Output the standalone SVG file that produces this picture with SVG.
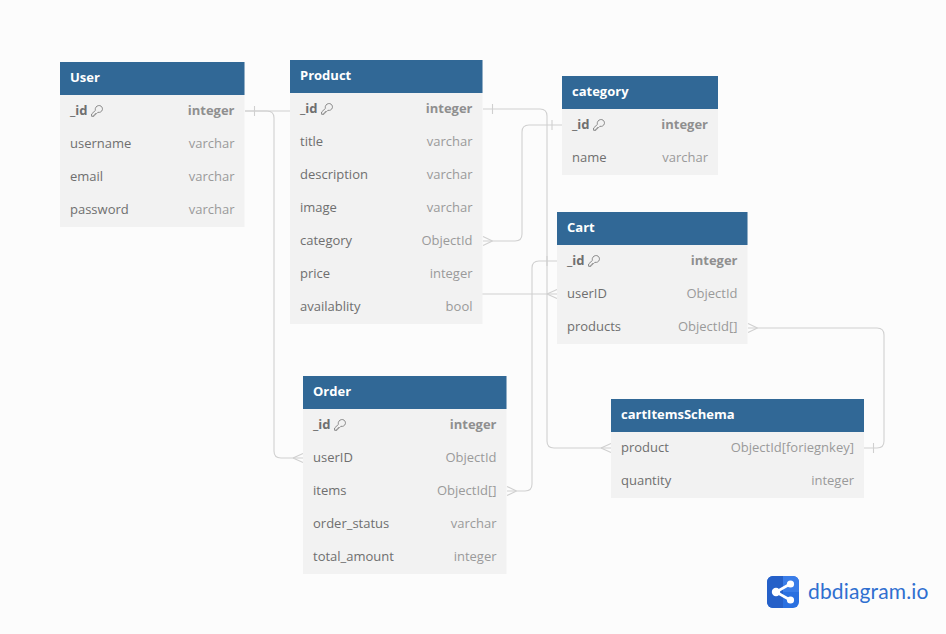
<svg xmlns="http://www.w3.org/2000/svg" width="946" height="634" viewBox="0 0 946 634">
<style>
text{font-family:"Open Sans","Noto Sans",sans-serif;font-size:13px;fill:#6f6f6f}
.b{fill:#f2f2f2}
.h{fill:#316896}
.t{font-weight:700;fill:#fff}
.pk{font-weight:700}
.ty{fill:#9a9a9a;text-anchor:end}
.pkt{font-weight:700;fill:#8f8f8f;text-anchor:end}
.c{fill:none;stroke:#d0d0d0;stroke-width:1.1}
.k{fill:none;stroke:#7d7d7d;stroke-width:.9}
</style>
<defs>
<g id="key"><path class="k" d="M4.300 3.600C4.800 1.400 6.800 .3 8.800 .6C10.600 1 11.700 2.700 11.400 4.600C11 6.600 8.900 7.800 6.900 7.300L5.500 8.700H4.200V10H2.900V11.300H.6V9L4.600 5.200C4.300 4.700 4.200 4.200 4.300 3.600Z"/></g>
</defs>
<rect width="946" height="634" fill="#fcfcfc"/>
<g id="connectors">
<path class="c" d="M245 111H394Q401 111 401 118V287Q401 294 408 294H557"/>
<path class="c" d="M547 294L557 289.500M547 294L557 298.500"/>
<path class="c" d="M245 111H267Q274 111 274 118V451Q274 458 281 458H303"/>
<path class="c" d="M293 458L303 453.500M293 458L303 462.500"/>
<path class="c" d="M254.500 106V116"/>
<path class="c" d="M483 109H540Q547 109 547 116V441Q547 448 554 448H611"/>
<path class="c" d="M492.500 104V114"/>
<path class="c" d="M601 448L611 443.500M601 448L611 452.500"/>
<path class="c" d="M562 125H529Q522 125 522 132V234Q522 241 515 241H483"/>
<path class="c" d="M552 120V130"/>
<path class="c" d="M492.500 241L483 236.500M492.500 241L483 245.500"/>
<path class="c" d="M557 261H539Q532 261 532 268V484Q532 491 525 491H507"/>
<path class="c" d="M547 256V266"/>
<path class="c" d="M516.500 491L507 486.500M516.500 491L507 495.500"/>
<path class="c" d="M864 448H877Q884 448 884 441V335Q884 328 877 328H748"/>
<path class="c" d="M873.500 443V453"/>
<path class="c" d="M757.500 328L748 323.500M757.500 328L748 332.500"/>
</g>
<g id="user">
<rect class="b" x="60" y="62" width="184.500" height="165"/><rect class="h" x="60" y="62" width="184.500" height="33"/>
<text class="t" x="70" y="82">User</text>
<text class="pk" x="70" y="115">_id</text><use href="#key" x="91" y="105"/><text class="pkt" x="234.500" y="115">integer</text>
<text x="70" y="148">username</text><text class="ty" x="234.500" y="148">varchar</text>
<text x="70" y="181">email</text><text class="ty" x="234.500" y="181">varchar</text>
<text x="70" y="214">password</text><text class="ty" x="234.500" y="214">varchar</text>
</g>
<g id="product">
<rect class="b" x="290" y="60" width="192.500" height="264"/><rect class="h" x="290" y="60" width="192.500" height="33"/>
<text class="t" x="300" y="80">Product</text>
<text class="pk" x="300" y="113">_id</text><use href="#key" x="321" y="103"/><text class="pkt" x="472.500" y="113">integer</text>
<text x="300" y="146">title</text><text class="ty" x="472.500" y="146">varchar</text>
<text x="300" y="179">description</text><text class="ty" x="472.500" y="179">varchar</text>
<text x="300" y="212">image</text><text class="ty" x="472.500" y="212">varchar</text>
<text x="300" y="245">category</text><text class="ty" x="472.500" y="245">ObjectId</text>
<text x="300" y="278">price</text><text class="ty" x="472.500" y="278">integer</text>
<text x="300" y="311">availablity</text><text class="ty" x="472.500" y="311">bool</text>
</g>
<g id="category">
<rect class="b" x="562" y="76" width="156" height="99"/><rect class="h" x="562" y="76" width="156" height="33"/>
<text class="t" x="572" y="96">category</text>
<text class="pk" x="572" y="129">_id</text><use href="#key" x="593" y="119"/><text class="pkt" x="708" y="129">integer</text>
<text x="572" y="162">name</text><text class="ty" x="708" y="162">varchar</text>
</g>
<g id="cart">
<rect class="b" x="557" y="212" width="190.500" height="132"/><rect class="h" x="557" y="212" width="190.500" height="33"/>
<text class="t" x="567" y="232">Cart</text>
<text class="pk" x="567" y="265">_id</text><use href="#key" x="588" y="255"/><text class="pkt" x="737.500" y="265">integer</text>
<text x="567" y="298">userID</text><text class="ty" x="737.500" y="298">ObjectId</text>
<text x="567" y="331">products</text><text class="ty" x="737.500" y="331">ObjectId[]</text>
</g>
<g id="order">
<rect class="b" x="303" y="376" width="203.500" height="198"/><rect class="h" x="303" y="376" width="203.500" height="33"/>
<text class="t" x="313" y="396">Order</text>
<text class="pk" x="313" y="429">_id</text><use href="#key" x="334" y="419"/><text class="pkt" x="496.500" y="429">integer</text>
<text x="313" y="462">userID</text><text class="ty" x="496.500" y="462">ObjectId</text>
<text x="313" y="495">items</text><text class="ty" x="496.500" y="495">ObjectId[]</text>
<text x="313" y="528">order_status</text><text class="ty" x="496.500" y="528">varchar</text>
<text x="313" y="561">total_amount</text><text class="ty" x="496.500" y="561">integer</text>
</g>
<g id="cartItemsSchema">
<rect class="b" x="611" y="399" width="253" height="99"/><rect class="h" x="611" y="399" width="253" height="33"/>
<text class="t" x="621" y="419">cartItemsSchema</text>
<text x="621" y="452">product</text><text class="ty" x="854" y="452">ObjectId[foriegnkey]</text>
<text x="621" y="485">quantity</text><text class="ty" x="854" y="485">integer</text>
</g>
<g id="logo">
<rect x="767" y="576" width="32" height="32" rx="6" fill="#2a70e0"/>
<path d="M767 582a6 6 0 0 1 6-6H783V608H773a6 6 0 0 1-6-6Z" fill="#2560c8"/>
<path d="M783 576H793a6 6 0 0 1 6 6V592H783Z" fill="#3a7de8"/>
<path d="M791 583.500L776 592L791 600.500" fill="none" stroke="#fff" stroke-width="2.600"/>
<circle cx="790.500" cy="584" r="3.600" fill="#fff"/><circle cx="776" cy="592" r="4.200" fill="#fff"/><circle cx="790.500" cy="600" r="3.600" fill="#fff"/>
<text x="808" y="599" style="font-family:Lato,'Open Sans',sans-serif;font-size:21px;fill:#2f6fd0;letter-spacing:.15px">dbdiagram.io</text>
</g>
</svg>
